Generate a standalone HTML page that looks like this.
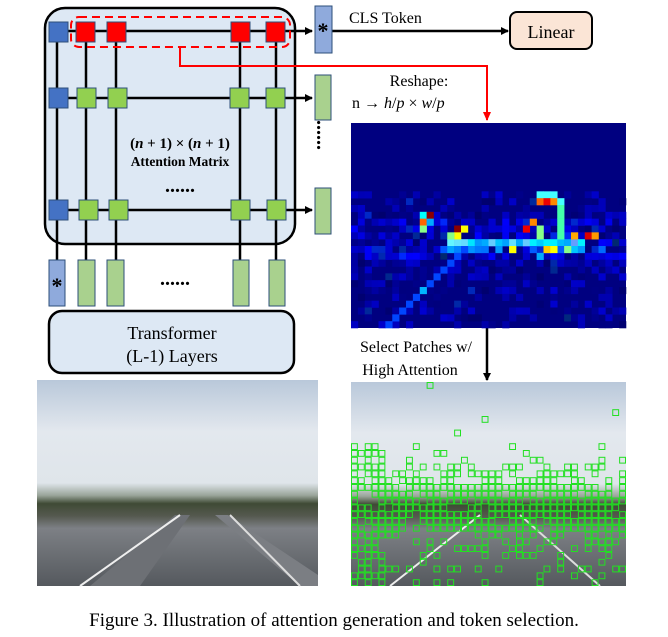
<!DOCTYPE html>
<html><head><meta charset="utf-8"><style>
body{margin:0;background:#fff;width:668px;height:637px;overflow:hidden}
svg{display:block}
text{font-family:"Liberation Serif",serif}
</style></head><body>
<svg id="s" width="668" height="637" viewBox="0 0 668 637" xmlns="http://www.w3.org/2000/svg">
<defs>
<marker id="ab" markerWidth="8" markerHeight="8" refX="7" refY="4" orient="auto" markerUnits="userSpaceOnUse"><path d="M0,0 L8,4 L0,8 z" fill="#000"/></marker>
<marker id="ar" markerWidth="10" markerHeight="8" refX="8" refY="4" orient="auto" markerUnits="userSpaceOnUse"><path d="M0,0 L9,4 L0,8 z" fill="#f00"/></marker>
<linearGradient id="ph" x1="0" y1="0" x2="0" y2="1">
<stop offset="0" stop-color="#b9c8da"/><stop offset="0.25" stop-color="#e3e8ee"/><stop offset="0.5" stop-color="#dfe5ea"/>
<stop offset="0.56" stop-color="#9aa59a"/><stop offset="0.6" stop-color="#3f4a35"/><stop offset="0.66" stop-color="#55594f"/>
<stop offset="0.72" stop-color="#7d8085"/><stop offset="1" stop-color="#55595e"/></linearGradient>
</defs>
<rect x="45" y="8" width="250" height="236" rx="20" fill="#dde8f4" stroke="#000" stroke-width="2.5"/>
<g stroke="#000" stroke-width="2.5">
<line x1="57" y1="31" x2="57" y2="262"/><line x1="86" y1="31" x2="86" y2="262"/><line x1="116" y1="31" x2="116" y2="262"/><line x1="240" y1="31" x2="240" y2="262"/><line x1="276" y1="31" x2="276" y2="262"/>
<line x1="57" y1="31" x2="312" y2="31" marker-end="url(#ab)"/>
<line x1="57" y1="98" x2="312" y2="98" marker-end="url(#ab)"/>
<line x1="57" y1="210" x2="312" y2="210" marker-end="url(#ab)"/>
<line x1="332" y1="31" x2="508" y2="31" marker-end="url(#ab)"/>
<line x1="487" y1="328" x2="487" y2="380" marker-end="url(#ab)"/>
</g>
<g stroke="#2e4f7a" stroke-width="1">
<rect x="49" y="22" width="19" height="20" fill="#4472c4"/>
<rect x="76" y="22" width="19" height="20" fill="#f00"/><rect x="107" y="22" width="19" height="20" fill="#f00"/><rect x="231" y="22" width="19" height="20" fill="#f00"/><rect x="266" y="22" width="19" height="20" fill="#f00"/>
<rect x="49" y="88" width="19" height="20" fill="#4472c4"/>
<rect x="77" y="88" width="19" height="20" fill="#92d050"/><rect x="108" y="88" width="19" height="20" fill="#92d050"/><rect x="230" y="88" width="19" height="20" fill="#92d050"/><rect x="266" y="88" width="19" height="20" fill="#92d050"/>
<rect x="49" y="200" width="19" height="20" fill="#4472c4"/>
<rect x="79" y="200" width="19" height="20" fill="#92d050"/><rect x="109" y="200" width="19" height="20" fill="#92d050"/><rect x="231" y="200" width="19" height="20" fill="#92d050"/><rect x="267" y="200" width="19" height="20" fill="#92d050"/>
<rect x="315" y="6" width="17" height="47" fill="#8faadc"/>
<rect x="315" y="75" width="16" height="45" fill="#a9d18e"/><rect x="315" y="188" width="16" height="46" fill="#a9d18e"/>
<rect x="49" y="260" width="16" height="46" fill="#8faadc"/>
<rect x="78" y="260" width="17" height="46" fill="#a9d18e"/><rect x="107" y="260" width="17" height="46" fill="#a9d18e"/><rect x="233" y="260" width="16" height="46" fill="#a9d18e"/><rect x="269" y="260" width="16" height="46" fill="#a9d18e"/>
</g>
<rect x="71" y="17" width="219" height="30" rx="8" fill="none" stroke="#f00" stroke-width="2" stroke-dasharray="8,5"/>
<polyline points="180,48 180,66 487,66 487,120" fill="none" stroke="#f00" stroke-width="2" marker-end="url(#ar)"/>
<text x="323" y="38" font-size="22" font-weight="bold" text-anchor="middle">*</text>
<text x="57" y="293" font-size="22" font-weight="bold" text-anchor="middle">*</text>
<text x="323" y="135" font-size="20" font-weight="bold" text-anchor="middle" writing-mode="tb">......</text>
<text x="180" y="148" font-size="15" font-weight="bold" text-anchor="middle">(<tspan font-style="italic">n</tspan> + 1) × (<tspan font-style="italic">n</tspan> + 1)</text>
<text x="180" y="166" font-size="13.5" font-weight="bold" text-anchor="middle">Attention Matrix</text>
<text x="180" y="192" font-size="20" font-weight="bold" text-anchor="middle">......</text>
<text x="175" y="285" font-size="20" font-weight="bold" text-anchor="middle">......</text>
<rect x="49" y="311" width="245" height="62" rx="13" fill="#dde8f4" stroke="#000" stroke-width="2.5"/>
<text x="172" y="339" font-size="18" text-anchor="middle">Transformer</text>
<text x="172" y="362" font-size="18" text-anchor="middle">(L-1) Layers</text>
<text x="349" y="23" font-size="16">CLS Token</text>
<rect x="510" y="12" width="82" height="37" rx="7" fill="#fbe5d6" stroke="#000" stroke-width="2"/>
<text x="551" y="38" font-size="18" text-anchor="middle">Linear</text>
<text x="419" y="86" font-size="16" text-anchor="middle">Reshape:</text>
<text x="352" y="108" font-size="16">n → <tspan font-style="italic">h</tspan>/<tspan font-style="italic">p</tspan> × <tspan font-style="italic">w</tspan>/<tspan font-style="italic">p</tspan></text>
<text x="416" y="352" font-size="16" text-anchor="middle">Select Patches w/</text>
<text x="410" y="375" font-size="16" text-anchor="middle">High Attention</text>
<rect x="351" y="123" width="275" height="205" fill="#000080"/>
<g id="hm"></g>
<rect x="37" y="380" width="281" height="206" fill="url(#ph)"/>
<polygon points="90,586 175,515 190,515 140,586" fill="#6d7075"/>
<polygon points="215,515 228,515 318,575 318,586 300,586" fill="#7b7e83"/>
<line x1="80" y1="586" x2="180" y2="515" stroke="#eee" stroke-width="2"/>
<line x1="230" y1="515" x2="300" y2="586" stroke="#ddd" stroke-width="2"/>
<rect x="351" y="382" width="275" height="204" fill="url(#ph)"/>
<line x1="390" y1="586" x2="480" y2="515" stroke="#eee" stroke-width="2"/>
<line x1="520" y1="515" x2="600" y2="586" stroke="#ddd" stroke-width="2"/>
<g id="gs" fill="none" stroke="#22e022" stroke-width="1"></g>
<text x="334" y="626" font-size="19" text-anchor="middle">Figure 3. Illustration of attention generation and token selection.</text>
</svg>
<script>
var seed=7;function r(){seed=(seed*16807)%2147483647;return seed/2147483647;}
var NS="http://www.w3.org/2000/svg",hm=document.getElementById("hm"),gs=document.getElementById("gs");
var cw=275/40,ch=205/30;
function rc(g,x,y,w,h,f){var e=document.createElementNS(NS,"rect");e.setAttribute("x",x);e.setAttribute("y",y);e.setAttribute("width",w);e.setAttribute("height",h);if(f)e.setAttribute("fill",f);g.appendChild(e);}
for(var row=10;row<30;row++)for(var c=0;c<40;c++){
 var p=row<13?0.35:(row<21?0.75:0.35);
 if(r()<p){var b=Math.floor(110+r()*100);if(row>=14&&row<=19&&r()<0.5)b=Math.floor(200+r()*55);
 rc(hm,351+c*cw,123+row*ch,cw+0.3,ch+0.3,"rgb(0,"+(r()<0.1?40:0)+","+b+")");}
}
for(var c=14;c<=33;c++){var g=Math.floor(150+r()*105);rc(hm,351+c*cw,123+17*ch,cw+0.3,ch+0.3,"rgb("+(r()<0.3?100:0)+","+g+",255)");}
for(var c=12;c<=36;c++){if(r()<0.7)rc(hm,351+c*cw,123+18*ch,cw+0.3,ch+0.3,"rgb(0,"+Math.floor(80+r()*120)+",255)");}
for(var k=0;k<12;k++){rc(hm,351+(5+k)*cw,123+(29-k)*ch,cw+0.3,ch+0.3,"rgb(0,"+(k==5?180:70)+",255)");}
var hot=[[10,13,"#0ff"],[11,13,"#8b0000"],[10,14,"#f60"],[10,15,"#8f8"],[11,14,"#0af"],[15,15,"#8b0000"],[16,15,"#ff0"],[15,16,"#ff0"],[14,16,"#8f8"],
[27,10,"#4ff"],[28,10,"#4ff"],[29,10,"#4ff"],[27,11,"#f60"],[28,11,"#e00"],[29,11,"#f80"],[30,11,"#4ff"],[30,12,"#4fa"],[30,13,"#4fa"],[30,14,"#4fa"],[30,15,"#4fa"],[30,16,"#4fa"],
[26,14,"#f80"],[25,15,"#e00"],[27,15,"#8f8"],[27,16,"#8f8"],[32,16,"#fa0"],[34,16,"#d00"],[35,16,"#f90"],[23,18,"#ff0"],[28,18,"#fc0"],[29,18,"#ff0"],[31,18,"#8f8"],[27,19,"#0af"]];
hot.forEach(function(h){rc(hm,351+h[0]*cw,123+h[1]*ch,cw+0.3,ch+0.3,h[2]);});
var gw=275/40,gh=204/30;
for(var row=0;row<30;row++)for(var c=0;c<40;c++){
 var p=row<9?0.02:row<12?0.15:row<15?0.45:row<22?0.85:row<26?0.35:0.15;
 if(c<5&&row>=9)p=Math.max(p,0.7);
 if(r()<p)rc(gs,351+c*gw+0.5,382+row*gh+0.5,gw-1,gh-1);
}
</script>
</body></html>
